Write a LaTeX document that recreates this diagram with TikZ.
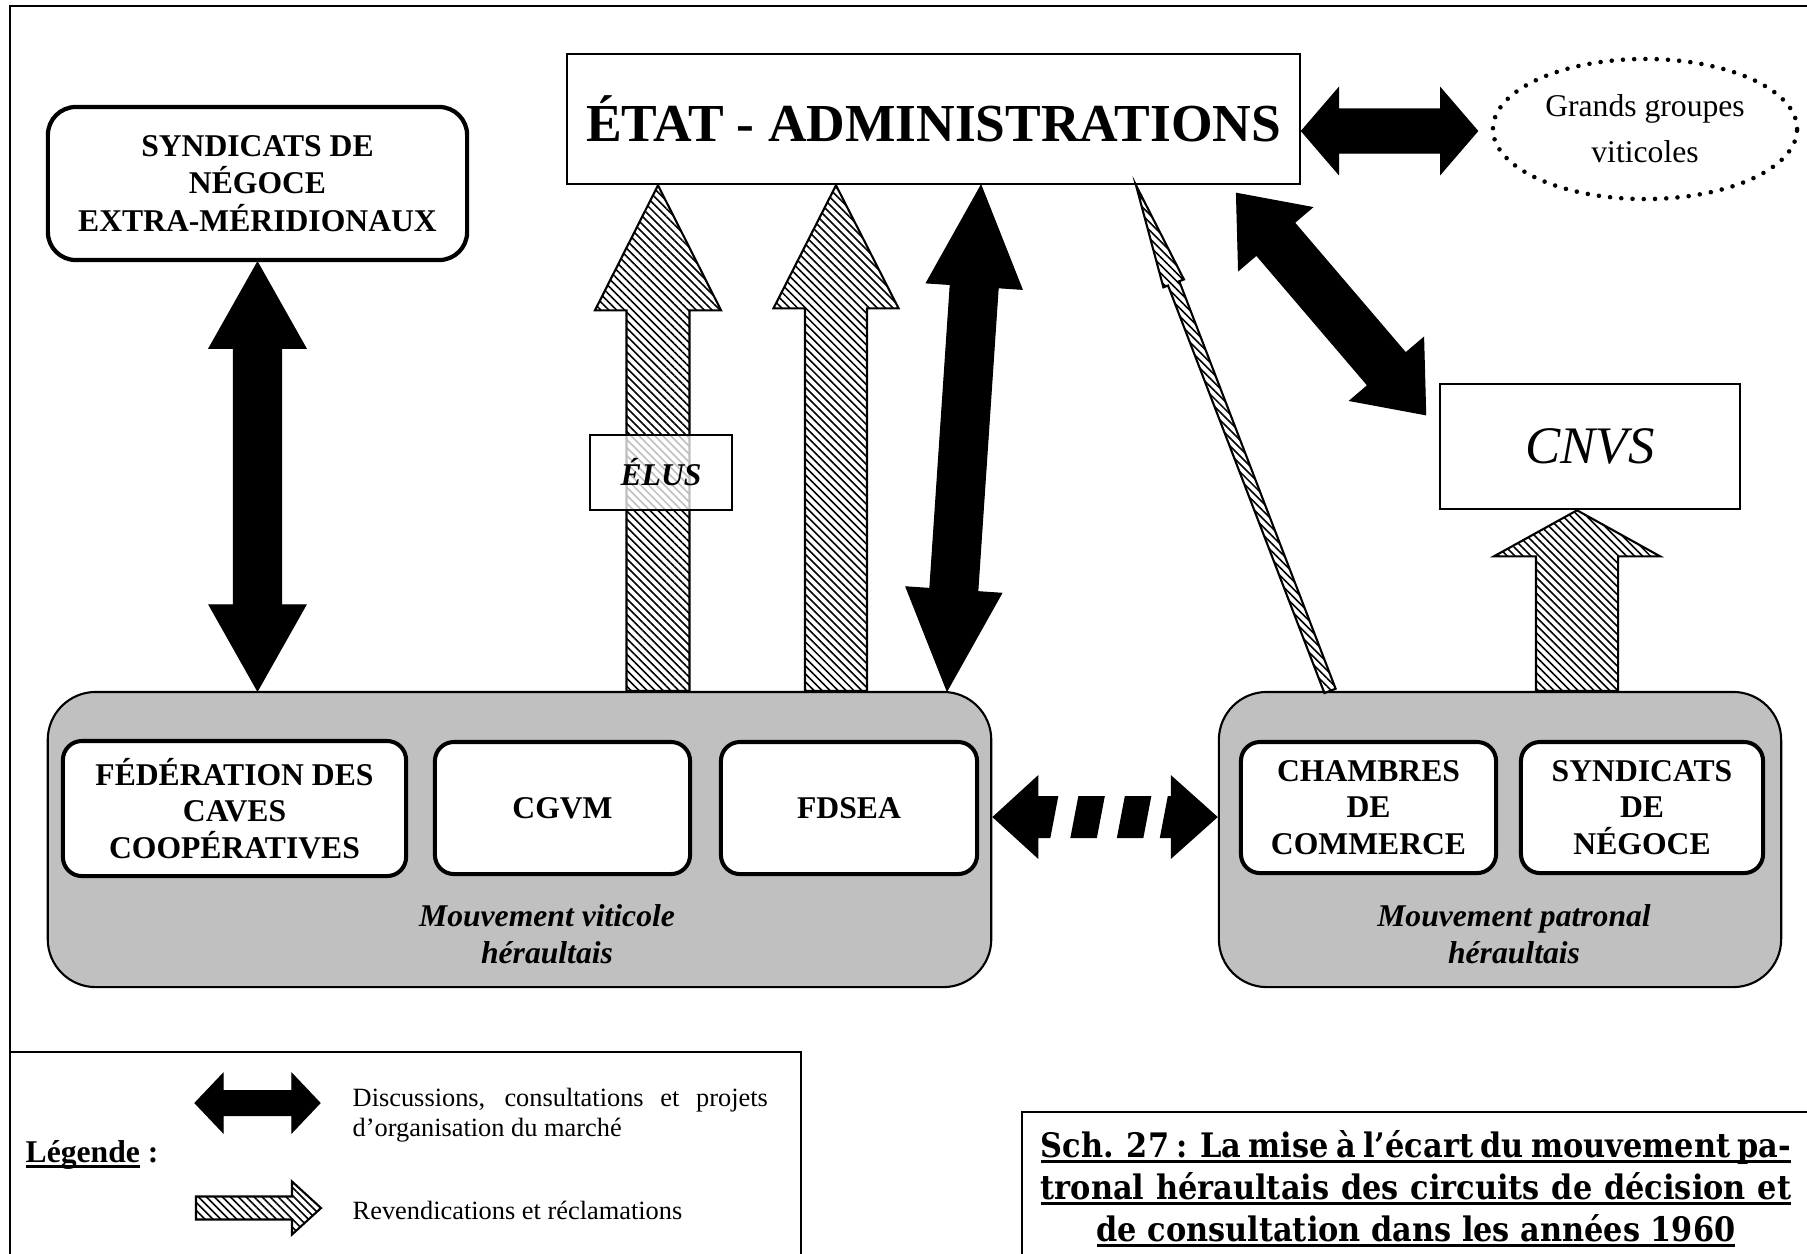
\documentclass[tikz,border=0pt]{standalone}
\usepackage{fontspec}
\setmainfont{Liberation Serif}
\newfontfamily\titlefont{DejaVu Serif Condensed}
\usetikzlibrary{calc,shapes.geometric,patterns.meta}
\definecolor{grp}{RGB}{192,192,192}

\newsavebox{\ulbox}
\newcommand{\myul}[2][1.8pt]{\sbox{\ulbox}{#2}\rlap{\rule[-#1]{\wd\ulbox}{0.8pt}}\usebox{\ulbox}}

% double arrow: #1 style, #2 tip A, #3 tip B, #4 shaft half width, #5 head half width, #6 head length
\newcommand{\DblArrow}[6]{%
  \coordinate (daA) at ($(#2)!#6!(#3)$);
  \coordinate (daB) at ($(#3)!#6!(#2)$);
  \path[#1] (#2) -- ($(daA)!#5!-90:(#3)$) -- ($(daA)!#4!-90:(#3)$)
    -- ($(daB)!#4!90:(#2)$) -- ($(daB)!#5!90:(#2)$) -- (#3)
    -- ($(daB)!#5!-90:(#2)$) -- ($(daB)!#4!-90:(#2)$)
    -- ($(daA)!#4!90:(#3)$) -- ($(daA)!#5!90:(#3)$) -- cycle;
}
% single arrow: #2 tail, #3 tip
\newcommand{\OneArrow}[6]{%
  \coordinate (oaH) at ($(#3)!#6!(#2)$);
  \path[#1] ($(#2)!#4!90:(#3)$) -- ($(oaH)!#4!-90:(#2)$) -- ($(oaH)!#5!-90:(#2)$) -- (#3)
    -- ($(oaH)!#5!90:(#2)$) -- ($(oaH)!#4!90:(#2)$) -- ($(#2)!#4!-90:(#3)$) -- cycle;
}

\begin{document}
\begin{tikzpicture}[x=0.01cm,y=-0.01cm,
  box/.style={draw, line width=0.7pt, fill=white, inner sep=0pt, align=center},
  rbox/.style={draw, line width=1.15pt, fill=white, rounded corners=0.19cm, inner sep=0pt, align=center, font=\bfseries\fontsize{9}{10.4}\selectfont},
  group/.style={draw, line width=0.6pt, fill=grp, rounded corners=0.48cm, inner sep=0pt},
  glabel/.style={font=\bfseries\itshape\fontsize{9}{10.5}\selectfont, align=center, inner sep=0pt},
  blackarr/.style={fill=black, draw=black, line width=0.3pt},
  hatcharr/.style={draw=black, line width=0.6pt, preaction={fill=white}, pattern={Lines[angle=-45,distance=1.6pt,line width=0.45pt]}},
  legtext/.style={font=\fontsize{7.5}{8.8}\selectfont, inner sep=0pt},
  titleline/.style={font=\titlefont\bfseries\fontsize{9.6}{11}\selectfont, inner sep=0pt, anchor=base}
]
\useasboundingbox (0,0) rectangle (1807,1253);
\clip (0,0) rectangle (1807,1253);
\fill[white] (0,0) rectangle (1807,1253);

% outer frame
\draw[line width=0.6pt] (10,1300) -- (10,6) -- (1850,6);

% top nodes
\node[rbox, line width=1.2pt, rounded corners=0.28cm, minimum width=4.19cm, minimum height=1.53cm, font=\bfseries\fontsize{9}{10.6}\selectfont] (syn) at (257.5,183.5) {SYNDICATS DE\\NÉGOCE\\EXTRA-MÉRIDIONAUX};
\node[box, minimum width=7.33cm, minimum height=1.30cm, font=\bfseries\fontsize{15.2}{18}\selectfont] (etat) at (933.5,119) {ÉTAT - ADMINISTRATIONS};
\node[ellipse, draw, line width=1.3pt, dash pattern=on 0pt off 3.2pt, line cap=round, minimum width=3.04cm, minimum height=1.40cm, inner sep=0pt, align=center, font=\fontsize{9}{13}\selectfont] (gg) at (1645,129) {Grands groupes\\viticoles};
\node[box, minimum width=3.0cm, minimum height=1.25cm, font=\itshape\fontsize{15}{18}\selectfont] (cnvs) at (1590,446.5) {CNVS};

% groups
\node[group, minimum width=9.43cm, minimum height=2.95cm] (viti) at (519.5,839.5) {};
\node[group, minimum width=5.62cm, minimum height=2.95cm] (patr) at (1500,839.5) {};

\node[rbox, minimum width=3.43cm, minimum height=1.35cm] (fed) at (234.5,808.5) {FÉDÉRATION DES\\CAVES\\COOPÉRATIVES};
\node[rbox, minimum width=2.55cm, minimum height=1.32cm] (cgvm) at (562.5,808) {CGVM};
\node[rbox, minimum width=2.56cm, minimum height=1.32cm] (fdsea) at (849,808) {FDSEA};
\node[rbox, minimum width=2.55cm, minimum height=1.31cm] (chamb) at (1368.5,807.5) {CHAMBRES\\DE\\COMMERCE};
\node[rbox, minimum width=2.42cm, minimum height=1.31cm] (synneg) at (1642,807.5) {SYNDICATS\\DE\\NÉGOCE};

\node[glabel] (mv1) at (547,934) {Mouvement viticole\\héraultais};
\node[glabel] (mv2) at (1514,934) {Mouvement patronal\\héraultais};

% connector end points
\coordinate (xs1) at (syn.south);
\coordinate (xs2) at (syn.south |- viti.north);
\coordinate (ha1) at (viti.north -| 658,0);
\coordinate (ha2) at (etat.south -| 658,0);
\coordinate (hb1) at (viti.north -| 836,0);
\coordinate (hb2) at (etat.south -| 836,0);
\coordinate (bv1) at (viti.north -| 947,0);
\coordinate (bv2) at (etat.south -| 981,0);
\coordinate (th1) at (patr.north -| 1330,0);
\coordinate (th2) at (etat.south -| 1136,0);
\coordinate (dg1) at ($(etat.south east)+(-65,8)$);
\coordinate (dg2) at ($(cnvs.north west)+(-13,32)$);
\coordinate (hz1) at (etat.east |- 0,131);
\coordinate (hz2) at ($(gg.west |- 0,131)+(-13,0)$);
\coordinate (cv1) at (patr.north -| 1577,0);
\coordinate (cv2) at (cnvs.south -| 1577,0);
\coordinate (dl) at (viti.east |- 0,817);
\coordinate (dr) at (patr.west |- 0,817);

% black double arrows
\DblArrow{blackarr}{xs1}{xs2}{0.24cm}{0.485cm}{0.86cm}
\DblArrow{blackarr}{bv2}{bv1}{0.24cm}{0.48cm}{1.01cm}
\DblArrow{blackarr}{hz1}{hz2}{0.22cm}{0.43cm}{0.37cm}
\DblArrow{blackarr}{dg1}{dg2}{0.25cm}{0.485cm}{0.6cm}

% hatched arrows
\OneArrow{hatcharr}{ha1}{ha2}{0.315cm}{0.63cm}{1.25cm}
\OneArrow{hatcharr}{hb1}{hb2}{0.31cm}{0.625cm}{1.23cm}
\OneArrow{hatcharr}{th1}{th2}{0.06cm}{0.11cm}{1.05cm}
\OneArrow{hatcharr}{cv1}{cv2}{0.41cm}{0.83cm}{0.46cm}

% dashed double arrow
\fill[black] (dl) -- +(46,-42) -- +(46,-21) -- +(66,-21) -- +(58,21) -- +(46,21) -- +(46,42) -- cycle;
\fill[black] ($(dl)+(86,-21)$) -- +(26.5,0) -- +(18.5,42) -- +(-8,42) -- cycle;
\fill[black] ($(dl)+(132.5,-21)$) -- +(26.5,0) -- +(18.5,42) -- +(-8,42) -- cycle;
\fill[black] (dr) -- +(-47,-42) -- +(-47,-21) -- +(-50,-21) -- +(-58,21) -- +(-47,21) -- +(-47,42) -- cycle;

% ELUS box over arrow
\node[box, fill opacity=0.75, text opacity=1, minimum width=1.42cm, minimum height=0.75cm, font=\bfseries\itshape\fontsize{9}{10.5}\selectfont] (elus) at (661,472.5) {ÉLUS};

% legend
\draw[line width=0.6pt] (10,1052) -- (801,1052) -- (801,1300);
\node[anchor=base west, inner sep=0pt, font=\bfseries\fontsize{9}{10.5}\selectfont] (legt) at (25,1162) {\myul[1.6pt]{Légende} :};
\coordinate (lg1) at (195,1103);
\coordinate (lg2) at (320,1103);
\DblArrow{blackarr}{lg1}{lg2}{0.125cm}{0.295cm}{0.28cm}
\coordinate (lh1) at (196,1208);
\coordinate (lh2) at (321,1208);
\OneArrow{hatcharr}{lh1}{lh2}{0.115cm}{0.265cm}{0.29cm}
\node[legtext, anchor=north west, text width=4.15cm, align=justify] (leg1) at (352,1087) {Discussions, consultations et projets d’organisation du marché};
\node[legtext, anchor=base west] (leg2) at (352,1219) {Revendications et réclamations};

% title
\draw[line width=0.6pt] (1022,1300) -- (1022,1112) -- (1850,1112);
\node[titleline] (t1) at (1416,1157) {\myul[1.6pt]{\makebox[7.5cm][s]{Sch. 27 : La mise à l’écart du mouvement pa-}}};
\node[titleline] (t2) at (1416,1199) {\myul[1.6pt]{\makebox[7.5cm][s]{tronal héraultais des circuits de décision et}}};
\node[titleline] (t3) at (1416,1241) {\myul[1.6pt]{de consultation dans les années 1960}};
\end{tikzpicture}
\end{document}
